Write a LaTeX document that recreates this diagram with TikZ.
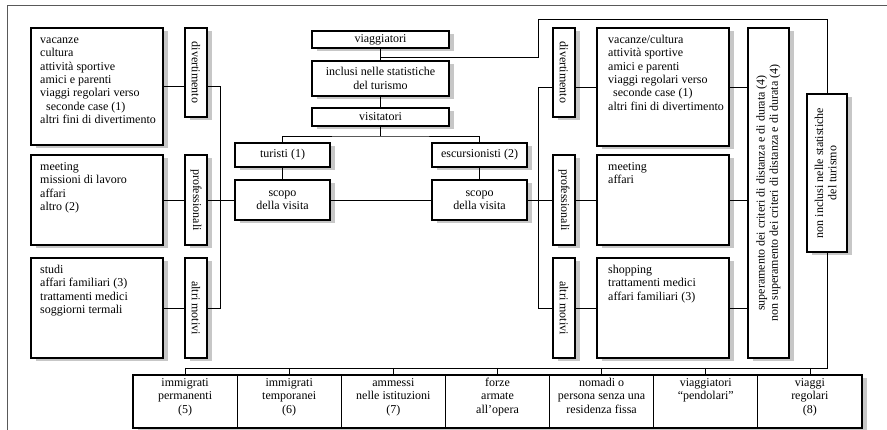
\documentclass[tikz,border=0pt]{standalone}
\usepackage{fontspec}
\setmainfont{Liberation Serif}
\usetikzlibrary{shadows,calc}
\begin{document}
\begin{tikzpicture}[x=1pt,y=-1pt,
  font=\fontsize{12}{13.3}\selectfont,
  box/.style={draw, line width=1.1pt, fill=white, inner sep=0pt, align=center,
    drop shadow={shadow xshift=5pt, shadow yshift=-3.5pt, fill=black!22, opacity=1}},
  conn/.style={line width=0.7pt},
  frame/.style={line width=0.8pt, black!65},
  lst/.style={anchor=north west, align=left, inner sep=0pt},
  btxt/.style={anchor=north, align=center, inner sep=0pt}]
\useasboundingbox (0,0) rectangle (887,430);

% outer frame
\coordinate (f1) at (7,430);
\coordinate (f2) at (7,5);
\coordinate (f3) at (887,5);
\draw[frame] (f1) -- (f2) -- (f3);

% left list boxes
\node[box, minimum width=132pt, minimum height=117pt] (l1) at (97,86.5) {};
\node[lst] (l1t) at (40,34) {\strut vacanze\\cultura\\attività sportive\\amici e parenti\\viaggi regolari verso\\\hspace*{6pt}seconde case (1)\\altri fini di divertimento};
\node[box, minimum width=132pt, minimum height=90pt] (l2) at (97,200) {};
\node[lst] (l2t) at (40,161) {\strut meeting\\missioni di lavoro\\affari\\altro (2)};
\node[box, minimum width=132pt, minimum height=100pt] (l3) at (97,308) {};
\node[lst] (l3t) at (40,264) {\strut studi\\affari familiari (3)\\trattamenti medici\\soggiorni termali};

% left labels
\node[box, minimum width=22pt, minimum height=89pt] (l1lab) at (196,72.5) {\rotatebox{-90}{divertimento}};
\node[box, minimum width=22pt, minimum height=90pt] (l2lab) at (196,200) {\rotatebox{-90}{professionali}};
\node[box, minimum width=22pt, minimum height=100pt] (l3lab) at (196,308) {\rotatebox{-90}{altri motivi}};

% centre
\node[box, minimum width=137pt, minimum height=17pt] (viag) at (380.5,39.5) {viaggiatori};
\node[box, minimum width=137pt, minimum height=35pt] (incl) at (380.5,78.5) {inclusi nelle statistiche\\del turismo};
\node[box, minimum width=137pt, minimum height=18pt] (visit) at (380.5,117) {visitatori};
\node[box, minimum width=95pt, minimum height=24pt] (tur) at (282.5,155) {turisti (1)};
\node[box, minimum width=95pt, minimum height=24pt] (esc) at (479.5,155) {escursionisti (2)};
\node[box, minimum width=95pt, minimum height=40pt] (scT) at (282.5,200) {scopo\\della visita};
\node[box, minimum width=95pt, minimum height=40pt] (scE) at (479.5,200) {scopo\\della visita};

% right labels
\node[box, minimum width=22pt, minimum height=89pt] (r1lab) at (564,72.5) {\rotatebox{-90}{divertimento}};
\node[box, minimum width=22pt, minimum height=90pt] (r2lab) at (564,200) {\rotatebox{-90}{professionali}};
\node[box, minimum width=22pt, minimum height=100pt] (r3lab) at (564,308) {\rotatebox{-90}{altri motivi}};

% right list boxes
\node[box, minimum width=132pt, minimum height=118pt] (r1) at (663,87) {};
\node[lst] (r1t) at (608,34) {\strut vacanze/cultura\\attività sportive\\amici e parenti\\viaggi regolari verso\\\hspace*{5pt}seconde case (1)\\altri fini di divertimento};
\node[box, minimum width=132pt, minimum height=90pt] (r2) at (663,200) {};
\node[lst] (r2t) at (608,161) {\strut meeting\\affari};
\node[box, minimum width=132pt, minimum height=100pt] (r3) at (663,308) {};
\node[lst] (r3t) at (608,264) {\strut shopping\\trattamenti medici\\affari familiari (3)};

% criteria and non-included boxes
\node[box, minimum width=41pt, minimum height=330pt] (sup) at (768.5,193) {\rotatebox{90}{\begin{tabular}{@{}c@{}}superamento dei criteri di distanza e di durata (4)\\non superamento dei criteri di distanza e di durata (4)\end{tabular}}};
\node[box, minimum width=40pt, minimum height=158pt] (ninc) at (827,173) {\rotatebox{90}{\begin{tabular}{@{}c@{}}non inclusi nelle statistiche\\del turismo\end{tabular}}};

% bottom boxes
\node[box, minimum width=104.2pt, minimum height=53pt] (b1) at (185.1,401.5) {};
\node[box, minimum width=104.2pt, minimum height=53pt] (b2) at (289.2,401.5) {};
\node[box, minimum width=104.2pt, minimum height=53pt] (b3) at (393.4,401.5) {};
\node[box, minimum width=104.2pt, minimum height=53pt] (b4) at (497.5,401.5) {};
\node[box, minimum width=104.2pt, minimum height=53pt] (b5) at (601.6,401.5) {};
\node[box, minimum width=104.2pt, minimum height=53pt] (b6) at (705.8,401.5) {};
\node[box, minimum width=104.2pt, minimum height=53pt] (b7) at (809.9,401.5) {};
\node[btxt] (bt1) at (185.1,377) {\strut immigrati\\permanenti\\(5)};
\node[btxt] (bt2) at (289.2,377) {\strut immigrati\\temporanei\\(6)};
\node[btxt] (bt3) at (393.4,377) {\strut ammessi\\nelle istituzioni\\(7)};
\node[btxt] (bt4) at (497.5,377) {\strut forze\\armate\\all’opera};
\node[btxt] (bt5) at (601.6,377) {\strut nomadi o\\persona senza una\\residenza fissa};
\node[btxt] (bt6) at (705.8,377) {\strut viaggiatori\\“pendolari”};
\node[btxt] (bt7) at (809.9,377) {\strut viaggi\\regolari\\(8)};

% connectors: left
\coordinate (lv) at (220,0);
\draw[conn] (l1.east) -- (l1lab.west |- l1.east);
\draw[conn] (l1lab.east |- l1.east) -| (lv |- l3.east) -- (l3lab.east |- l3.east);
\draw[conn] (l2.east) -- (l2lab.west);
\draw[conn] (l2lab.east) -- (scT.west);
\draw[conn] (l3.east) -- (l3lab.west);

% connectors: centre
\draw[conn] (viag) -- (incl);
\draw[conn] (incl) -- (visit);
\coordinate (j2) at (380.5,136);
\draw[conn] (visit.south) -- (j2);
\draw[conn] (tur.north) |- (j2) -| (esc.north);
\draw[conn] (tur) -- (scT);
\draw[conn] (esc) -- (scE);
\draw[conn] (scT) -- (scE);

% connectors: right
\coordinate (rv) at (538,0);
\draw[conn] (scE.east) -- (r2lab.west);
\draw[conn] (r1lab.west |- r1.west) -| (rv |- r3.west) -- (r3lab.west |- r3.west);
\draw[conn] (r1lab.east |- r1.west) -- (r1.west);
\draw[conn] (r2lab.east) -- (r2.west);
\draw[conn] (r3lab.east) -- (r3.west);
\draw[conn] (r1.east) -- (sup.west |- r1.east);
\draw[conn] (r2.east) -- (sup.west |- r2.east);
\draw[conn] (r3.east) -- (sup.west |- r3.east);

% top route to non-included
\coordinate (j1) at (380.5,57);
\coordinate (t1) at (538,19);
\draw[conn] (j1) -| (t1) -| (ninc.north);

% bottom route
\coordinate (hb) at (0,368);
\draw[conn] (ninc.south) |- (b1.north |- hb);
\foreach \b in {b1,b2,b3,b4,b5,b6,b7} {
  \draw[conn] (\b.north |- hb) -- (\b.north);
}
\end{tikzpicture}
\end{document}
